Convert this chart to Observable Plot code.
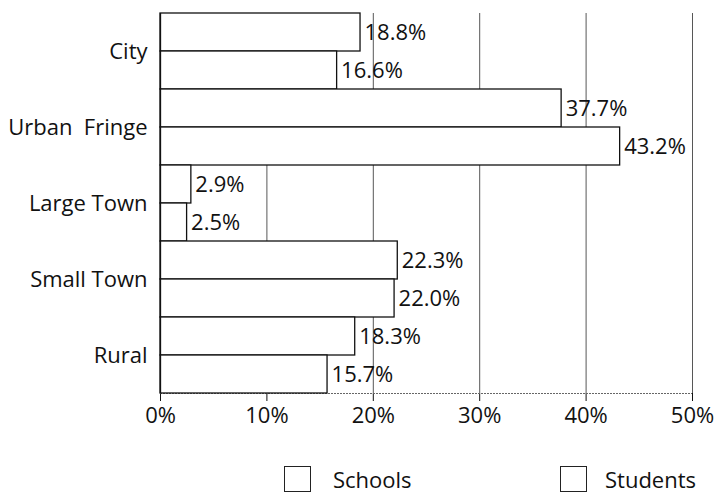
<!DOCTYPE html>
<html>
<head>
<meta charset="utf-8">
<script src="https://cdn.jsdelivr.net/npm/d3@7"></script>
<script src="https://cdn.jsdelivr.net/npm/@observablehq/plot@0.6"></script>
<style>
  body { margin: 0; background: white; font-family: "Open Sans", sans-serif; }
  #wrap { position: relative; width: 717px; height: 496px; }
  .swatch { position: absolute; width: 27px; height: 26px; border: 1.3px solid #222; background: white; box-sizing: border-box; }
  .ltext { position: absolute; font-size: 22px; line-height: 26px; color: #111; white-space: nowrap; }
</style>
</head>
<body>
<div id="wrap"></div>
<script>
const categories = ["City", "Urban  Fringe", "Large Town", "Small Town", "Rural"];
const series = ["Schools", "Students"];
const schools = [18.8, 37.7, 2.9, 22.3, 18.3];
const students = [16.6, 43.2, 2.5, 22.0, 15.7];
const xTicks = [0, 10, 20, 30, 40, 50];

const data = [];
categories.forEach((c, i) => {
  data.push({category: c, series: "Schools", value: schools[i]});
  data.push({category: c, series: "Students", value: students[i]});
});

const chart = Plot.plot({
  width: 717,
  height: 440,
  marginLeft: 160,
  marginRight: 25,
  marginTop: 13,
  marginBottom: 47,
  style: {fontFamily: "'Open Sans', sans-serif", fontSize: "22px", color: "#111", background: "white", overflow: "visible"},
  x: {domain: [0, 50], ticks: xTicks, tickFormat: d => d + "%", label: null, tickSize: 8, tickPadding: 6},
  fy: {domain: categories, padding: 0, label: null, tickSize: 0, tickPadding: 13},
  y: {domain: series, padding: 0, axis: null},
  marks: [
    Plot.ruleX(xTicks.slice(1), {stroke: "#444", strokeWidth: 0.9}),
    Plot.ruleY(data.filter(d => d.category === "Rural" && d.series === "Students"),
      {y: "series", fy: "category", dy: 19, stroke: "#666", strokeWidth: 1, strokeDasharray: "2,1"}),
    Plot.barX(data, {x: "value", y: "series", fy: "category", fill: "white", stroke: "#111", strokeWidth: 1.3}),
    Plot.ruleX([0], {stroke: "#111", strokeWidth: 1.3}),
    Plot.text(data, {x: "value", y: "series", fy: "category", text: d => d.value.toFixed(1) + "%", textAnchor: "start", dx: 4, fontSize: 22, fill: "#111"})
  ]
});

const wrap = document.getElementById("wrap");
wrap.appendChild(chart);

const legendBox = [284, 560];
const legendText = [333, 605];
series.forEach((s, i) => {
  const sw = document.createElement("div");
  sw.className = "swatch";
  sw.style.left = legendBox[i] + "px";
  sw.style.top = "466px";
  const t = document.createElement("div");
  t.className = "ltext";
  t.textContent = s;
  t.style.left = legendText[i] + "px";
  t.style.top = "466px";
  wrap.appendChild(sw);
  wrap.appendChild(t);
});
</script>
</body>
</html>
